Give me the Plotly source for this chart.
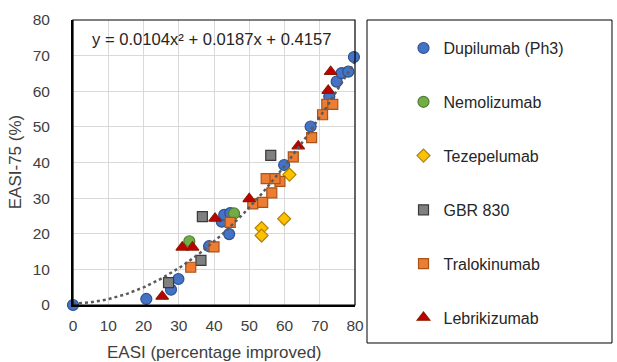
import plotly.graph_objects as go

# ---- data ----
dupilumab_x = [0, 20.8, 27.8, 29.9, 38.6, 42.2, 42.9, 44.6, 44.3, 59.9, 67.4, 72.7, 74.8, 76.2, 78.1, 79.7]
dupilumab_y = [0, 1.7, 4.3, 7.3, 16.5, 23.4, 25.3, 25.8, 19.9, 39.3, 50.1, 58.5, 62.7, 65.1, 65.5, 69.6]

nemolizumab_x = [33.0, 45.7]
nemolizumab_y = [17.9, 25.7]

tezepelumab_x = [53.5, 53.5, 59.9, 61.4]
tezepelumab_y = [21.6, 19.5, 24.2, 36.6]

gbr830_x = [27.1, 36.3, 36.7, 56.1]
gbr830_y = [6.3, 12.5, 24.8, 42.0]

tralokinumab_x = [33.4, 40.0, 44.6, 51.0, 53.8, 56.4, 58.7, 54.8, 57.3, 62.5, 67.7, 70.8, 72.0, 73.7]
tralokinumab_y = [10.6, 16.3, 23.2, 28.4, 28.8, 31.5, 34.7, 35.5, 35.5, 41.6, 47.0, 53.4, 56.3, 56.3]

lebrikizumab_x = [25.3, 31.0, 33.9, 40.3, 50.0, 63.9, 72.4, 73.1]
lebrikizumab_y = [2.4, 16.2, 16.2, 24.3, 29.8, 44.6, 60.2, 65.5]

# polynomial trendline coefficients (as printed on the chart)
trend_a, trend_b, trend_c = 0.0104, 0.0187, 0.4157
trend_x = [i * 0.5 for i in range(0, 161)]
trend_y = [trend_a * x * x + trend_b * x + trend_c for x in trend_x]

x_ticks = [0, 10, 20, 30, 40, 50, 60, 70, 80]
y_ticks = [0, 10, 20, 30, 40, 50, 60, 70, 80]

series = [
    ("Dupilumab (Ph3)", dupilumab_x, dupilumab_y, "circle", "#4472C4", "#2F528F", 11),
    ("Nemolizumab", nemolizumab_x, nemolizumab_y, "circle", "#70AD47", "#507E32", 11),
    ("Tezepelumab", tezepelumab_x, tezepelumab_y, "diamond", "#FFC000", "#B08600", 10),
    ("GBR 830", gbr830_x, gbr830_y, "square", "#808080", "#3A3A3A", 10),
    ("Tralokinumab", tralokinumab_x, tralokinumab_y, "square", "#ED7D31", "#A9531C", 10),
    ("Lebrikizumab", lebrikizumab_x, lebrikizumab_y, "triangle-up", "#C00000", "#8C1A00", 11),
]

fig = go.Figure()
for i, (name, xs, ys, sym, fill, line, size) in enumerate(series):
    fig.add_trace(go.Scatter(
        x=xs, y=ys, mode="markers", name=name, legendgroup=f"g{i}",
        legend="legend" if i < 3 else "legend2",
        marker=dict(symbol=sym, color=fill, size=size, line=dict(color=line, width=1.2)),
        cliponaxis=False,
    ))

fig.add_trace(go.Scatter(
    x=trend_x, y=trend_y, mode="lines", showlegend=False, hoverinfo="skip",
    line=dict(color="#5A5A5A", width=2.5, dash="dot"),
))

FONT = "Liberation Sans, Arial, sans-serif"
TXT = "#404040"

legend_style = dict(
    xanchor="left", yanchor="middle",
    traceorder="grouped", tracegroupgap=30,
    font=dict(family=FONT, size=16, color="#262626"),
    itemwidth=30, bgcolor="rgba(0,0,0,0)",
)

fig.update_layout(
    width=617, height=362,
    margin=dict(l=73, r=262, t=20, b=57),
    paper_bgcolor="white", plot_bgcolor="white",
    font=dict(family=FONT, size=15, color=TXT),
    showlegend=True,
    legend=dict(x=1.172, y=0.712, **legend_style),
    legend2=dict(x=1.172, y=0.144, **legend_style),
    xaxis=dict(
        range=[0, 80], tickvals=x_ticks, ticktext=[str(v) for v in x_ticks],
        showgrid=True, gridcolor="#D9D9D9", gridwidth=1,
        zeroline=False, showline=True, linecolor="black", linewidth=2,
        ticks="", ticklabelstandoff=5,
        tickfont=dict(family=FONT, size=15.5, color=TXT),
    ),
    yaxis=dict(
        range=[0, 80], tickvals=y_ticks, ticktext=[str(v) for v in y_ticks],
        showgrid=True, gridcolor="#D9D9D9", gridwidth=1,
        zeroline=False, showline=True, linecolor="black", linewidth=2,
        ticks="", ticklabelstandoff=18,
        tickfont=dict(family=FONT, size=15.5, color=TXT),
    ),
    shapes=[
        # plot frame
        dict(type="rect", xref="paper", yref="paper", x0=0, x1=1, y0=0, y1=1,
             line=dict(color="black", width=1.2), layer="above"),
        # legend frame
        dict(type="rect", xref="paper", yref="paper", x0=1.0426, x1=1.9113, y0=-0.1333, y1=1.0,
             line=dict(color="black", width=1), layer="above"),
    ],
    annotations=[
        dict(text="y = 0.0104x² + 0.0187x + 0.4157", xref="paper", yref="paper",
             x=0.49, y=0.93, xanchor="center", yanchor="middle", showarrow=False,
             font=dict(family=FONT, size=16.6, color="#262626")),
        dict(text="EASI (percentage improved)", xref="paper", yref="paper",
             x=0.5, y=-0.165, xanchor="center", yanchor="middle", showarrow=False,
             font=dict(family=FONT, size=17, color=TXT)),
        dict(text="EASI-75 (%)", xref="paper", yref="paper",
             x=-0.203, y=0.5, xanchor="center", yanchor="middle", showarrow=False,
             textangle=-90, font=dict(family=FONT, size=17, color=TXT)),
    ],
)

fig.write_html("out.html")
